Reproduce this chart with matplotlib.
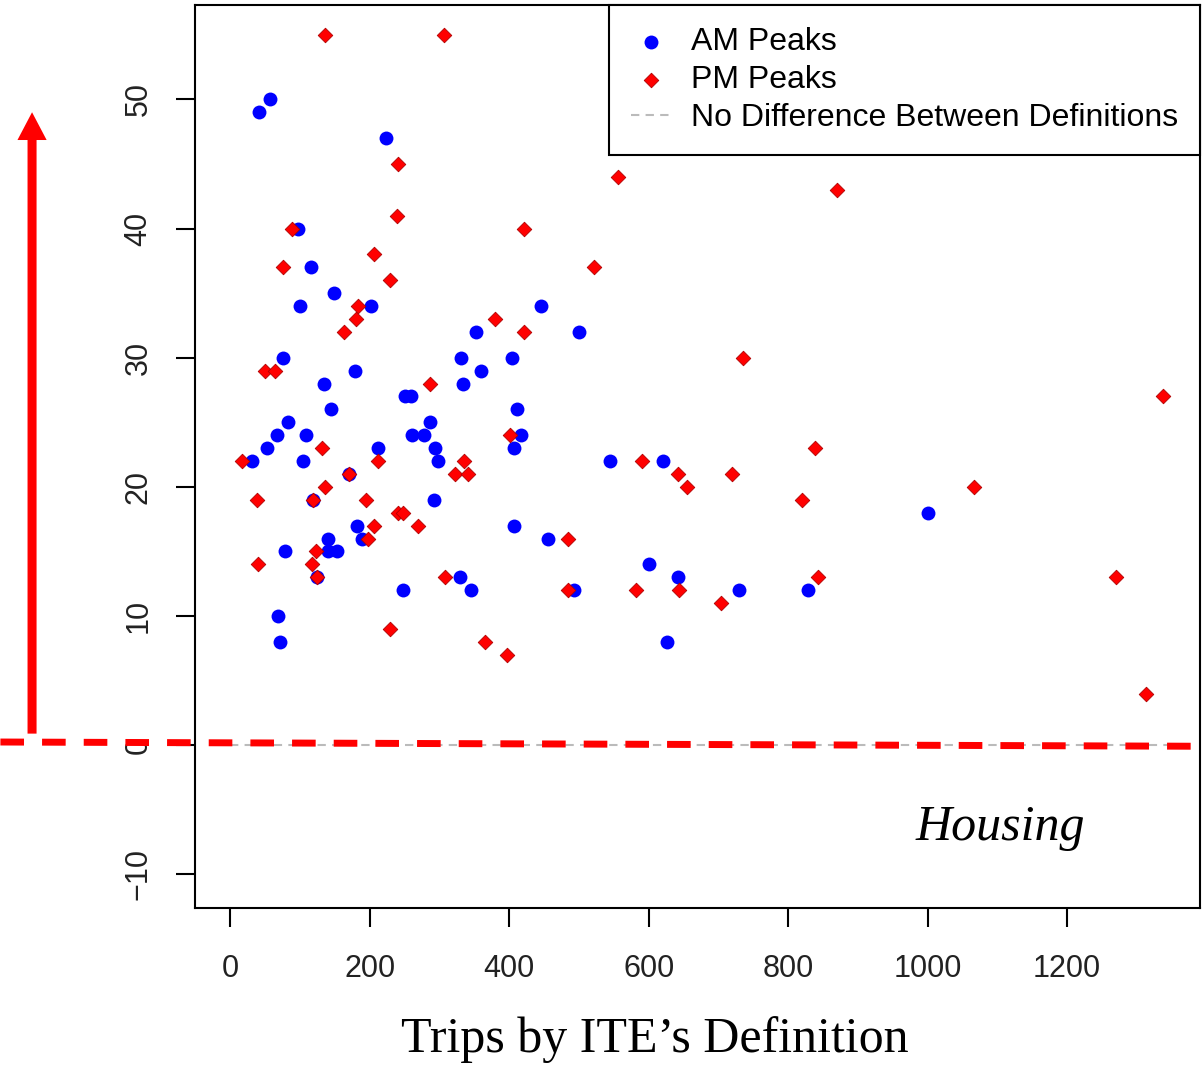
import numpy as np
import matplotlib.pyplot as plt

# AM peak sites: trips (ITE definition) vs difference
am_trips = [57, 41, 223, 97, 116, 149, 100, 202, 446, 352, 500, 75, 331, 404,
            179, 360, 134, 334, 250, 259, 144, 411, 82, 286, 67, 108, 260, 278,
            417, 52, 212, 293, 407, 31, 104, 298, 170, 118, 292, 181, 407, 140,
            153, 140, 189, 455, 78, 124, 329, 345, 248, 493, 68, 71, 545, 620,
            600, 642, 730, 829, 626, 1000]
am_diff = [50, 49, 47, 40, 37, 35, 34, 34, 34, 32, 32, 30, 30, 30, 29, 29, 28,
           28, 27, 27, 26, 26, 25, 25, 24, 24, 24, 24, 24, 23, 23, 23, 23, 22,
           22, 22, 21, 19, 19, 17, 17, 16, 15, 15, 16, 16, 15, 13, 13, 12, 12,
           12, 10, 8, 22, 22, 14, 13, 12, 12, 8, 18]

# PM peak sites
pm_trips = [135, 306, 240, 239, 88, 421, 206, 75, 229, 183, 180, 379, 163, 421,
            50, 64, 286, 401, 131, 17, 212, 335, 170, 322, 341, 136, 38, 118,
            194, 240, 248, 206, 269, 197, 484, 123, 40, 117, 124, 308, 484, 229,
            365, 397, 556, 870, 522, 735, 1338, 839, 590, 642, 655, 719, 820,
            1067, 582, 643, 703, 843, 1270, 1313]
pm_diff = [55, 55, 45, 41, 40, 40, 38, 37, 36, 34, 33, 33, 32, 32, 29, 29, 28,
           24, 23, 22, 22, 22, 21, 21, 21, 20, 19, 19, 19, 18, 18, 17, 17, 16,
           16, 15, 14, 14, 13, 13, 12, 9, 8, 7, 44, 43, 37, 30, 27, 23, 22, 21,
           20, 21, 19, 20, 12, 12, 11, 13, 13, 4]

# reference line (no difference)
nodiff_trips = [0, 1345]
nodiff_diff = [0, 0]

x_ticks = [0, 200, 400, 600, 800, 1000, 1200]
y_ticks = [-10, 0, 10, 20, 30, 40, 50]

plt.rcParams['font.family'] = ['Liberation Sans', 'DejaVu Sans']

fig = plt.figure(figsize=(12.04, 10.66), dpi=100)
ax = fig.add_axes([0.162, 0.1482, 0.8347, 0.8471])

ax.scatter(am_trips, am_diff, s=100, c='#0000ff', marker='o', linewidths=0,
           label='AM Peaks', zorder=3)
ax.scatter(pm_trips, pm_diff, s=55, c='#ff0000', marker='D',
           edgecolors='#b00000', linewidths=0.6, label='PM Peaks', zorder=3)
ax.plot(nodiff_trips, nodiff_diff, ls=(0, (4, 3)), color='#bbbbbb', lw=1.5,
        label='No Difference Between Definitions', zorder=2)

ax.set_xlim(-50.8, 1390.7)
ax.set_ylim(-12.6, 57.3)
ax.set_xticks(x_ticks)
ax.set_yticks(y_ticks)
ax.tick_params(length=14, width=1.5, labelsize=22, labelcolor='#222222')
ax.tick_params(axis='x', pad=19)
ax.tick_params(axis='y', pad=16, labelrotation=90)
plt.setp(ax.get_yticklabels(), va='center')
for sp in ax.spines.values():
    sp.set_linewidth(1.5)

leg = ax.legend(loc='upper right', borderaxespad=0, fancybox=False,
                edgecolor='black', framealpha=1, fontsize=23,
                labelspacing=0.24, handlelength=1.2, handletextpad=0.65,
                borderpad=0.7)
leg.get_frame().set_linewidth(1.5)

# overlays: red zero line and arrow
ax.plot([-330, 1397], [0.25, -0.08], color='red', lw=5, dashes=(3.4, 2.6),
        clip_on=False, zorder=4)
ax.annotate('', xy=(-284.6, 49.0), xytext=(-284.6, 0.9),
            arrowprops=dict(arrowstyle='simple,head_length=20,head_width=21,tail_width=6.5',
                            mutation_scale=1, color='red', lw=0,
                            shrinkA=0, shrinkB=0),
            annotation_clip=False)

ax.text(1104, -6.4, 'Housing', fontsize=36, fontstyle='italic',
        family=['Liberation Serif', 'DejaVu Serif'], ha='center', va='center')
fig.text(0.544, 0.0244, 'Trips by ITE\u2019s Definition', fontsize=36,
         family=['Liberation Serif', 'DejaVu Serif'], ha='center', va='center')

fig.savefig('out.png', dpi=100, facecolor='white')
